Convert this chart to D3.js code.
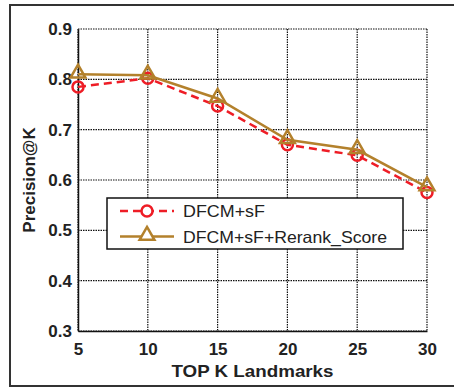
<!DOCTYPE html>
<html>
<head>
<meta charset="utf-8">
<script src="https://cdn.jsdelivr.net/npm/d3@7"></script>
<style>
  body { margin: 0; background: #fff; }
  text { font-family: Arial, "Liberation Sans", sans-serif; fill: #222; }
</style>
</head>
<body>
<div class="chart"></div>
<script>
var svgWidth = 454;
var svgHeight = 388;

// data
var topK = [5, 10, 15, 20, 25, 30];
var dfcmSf = [0.785, 0.802, 0.747, 0.670, 0.649, 0.575];
var dfcmSfRerank = [0.810, 0.808, 0.762, 0.680, 0.660, 0.586];
var seriesNames = ["DFCM+sF", "DFCM+sF+Rerank_Score"];
var xTicks = [5, 10, 15, 20, 25, 30];
var yTicks = [0.3, 0.4, 0.5, 0.6, 0.7, 0.8, 0.9];

var margin = { top: 29, right: 27, bottom: 57, left: 78 };
var width = svgWidth - margin.left - margin.right;
var height = svgHeight - margin.top - margin.bottom;

var red = "#ee1d26";
var gold = "#b3812c";

var svg = d3.select(".chart")
  .append("svg")
  .attr("width", svgWidth)
  .attr("height", svgHeight);

// outer figure frame
svg.append("path")
  .attr("d", "M456,5 H10 V386 H456")
  .attr("fill", "none")
  .attr("stroke", "#333")
  .attr("stroke-width", 2);

var chartGroup = svg.append("g")
  .attr("transform", `translate(${margin.left}, ${margin.top})`);

var x = d3.scaleLinear().domain([5, 30]).range([0, width]);
var y = d3.scaleLinear().domain([0.3, 0.9]).range([height, 0]);

// dotted grid
chartGroup.append("g")
  .selectAll("line")
  .data(xTicks)
  .enter()
  .append("line")
  .attr("x1", d => x(d)).attr("x2", d => x(d))
  .attr("y1", 0).attr("y2", height)
  .attr("stroke", "#111")
  .attr("stroke-width", 1.2)
  .attr("stroke-dasharray", "1.5,1");

chartGroup.append("g")
  .selectAll("line")
  .data(yTicks)
  .enter()
  .append("line")
  .attr("x1", 0).attr("x2", width)
  .attr("y1", d => y(d)).attr("y2", d => y(d))
  .attr("stroke", "#111")
  .attr("stroke-width", 1.2)
  .attr("stroke-dasharray", "1.5,1");

// axes
var bottomAxis = d3.axisBottom(x).tickValues(xTicks).tickSize(0).tickPadding(12)
  .tickFormat(d3.format("d"));
var leftAxis = d3.axisLeft(y).tickValues(yTicks).tickSize(0).tickPadding(6)
  .tickFormat(d3.format(".1f"));

var xAxis = chartGroup.append("g")
  .attr("transform", `translate(0, ${height})`)
  .call(bottomAxis);
var yAxis = chartGroup.append("g").call(leftAxis);

[xAxis, yAxis].forEach(function(a) {
  a.select(".domain").attr("stroke", "#111").attr("stroke-width", 1.5);
  a.selectAll("text")
    .attr("font-size", 17)
    .attr("font-weight", "bold")
    .attr("fill", "#222");
});

// axis titles
chartGroup.append("text")
  .attr("x", width / 2)
  .attr("y", height + 46)
  .attr("text-anchor", "middle")
  .attr("font-size", 17)
  .attr("font-weight", "bold")
  .attr("textLength", 162)
  .attr("lengthAdjust", "spacingAndGlyphs")
  .text("TOP K Landmarks");

chartGroup.append("text")
  .attr("transform", "rotate(-90)")
  .attr("x", -height / 2)
  .attr("y", -margin.left + 35)
  .attr("text-anchor", "middle")
  .attr("font-size", 17)
  .attr("font-weight", "bold")
  .text("Precision@K");

// lines
var line = d3.line()
  .x((d, i) => x(topK[i]))
  .y(d => y(d));

chartGroup.append("path")
  .datum(dfcmSf)
  .attr("d", line)
  .attr("fill", "none")
  .attr("stroke", red)
  .attr("stroke-width", 2.5)
  .attr("stroke-dasharray", "8,5");

chartGroup.selectAll(".circ")
  .data(dfcmSf)
  .enter()
  .append("circle")
  .attr("cx", (d, i) => x(topK[i]))
  .attr("cy", d => y(d))
  .attr("r", 5.5)
  .attr("fill", "none")
  .attr("stroke", red)
  .attr("stroke-width", 2.5);

chartGroup.append("path")
  .datum(dfcmSfRerank)
  .attr("d", line)
  .attr("fill", "none")
  .attr("stroke", gold)
  .attr("stroke-width", 2.5);

var tri = d3.symbol().type(d3.symbolTriangle).size(95);

chartGroup.selectAll(".tri")
  .data(dfcmSfRerank)
  .enter()
  .append("path")
  .attr("d", tri)
  .attr("transform", (d, i) => `translate(${x(topK[i])}, ${y(d) - 1})`)
  .attr("fill", "none")
  .attr("stroke", gold)
  .attr("stroke-width", 2.5);

// legend
var legend = svg.append("g").attr("transform", "translate(107, 198)");

legend.append("rect")
  .attr("width", 296)
  .attr("height", 51)
  .attr("fill", "#fff")
  .attr("stroke", "#111")
  .attr("stroke-width", 1.5);

var rows = [
  { name: seriesNames[0], color: red, dash: "8,5", marker: "circle" },
  { name: seriesNames[1], color: gold, dash: null, marker: "triangle" }
];

rows.forEach(function(r, i) {
  var cy = 13 + i * 25.5;
  legend.append("line")
    .attr("x1", 13).attr("x2", 67)
    .attr("y1", cy).attr("y2", cy)
    .attr("stroke", r.color)
    .attr("stroke-width", 2.5)
    .attr("stroke-dasharray", r.dash);
  if (r.marker === "circle") {
    legend.append("circle")
      .attr("cx", 40).attr("cy", cy).attr("r", 5.5)
      .attr("fill", "#fff")
      .attr("stroke", r.color)
      .attr("stroke-width", 2.5);
  } else {
    legend.append("path")
      .attr("d", tri)
      .attr("transform", `translate(40, ${cy - 1})`)
      .attr("fill", "#fff")
      .attr("stroke", r.color)
      .attr("stroke-width", 2.5);
  }
  legend.append("text")
    .attr("x", 76)
    .attr("y", cy + 6)
    .attr("font-size", 16.5)
    .attr("textLength", i === 0 ? 82 : 204)
    .attr("lengthAdjust", "spacingAndGlyphs")
    .text(r.name);
});
</script>
</body>
</html>
